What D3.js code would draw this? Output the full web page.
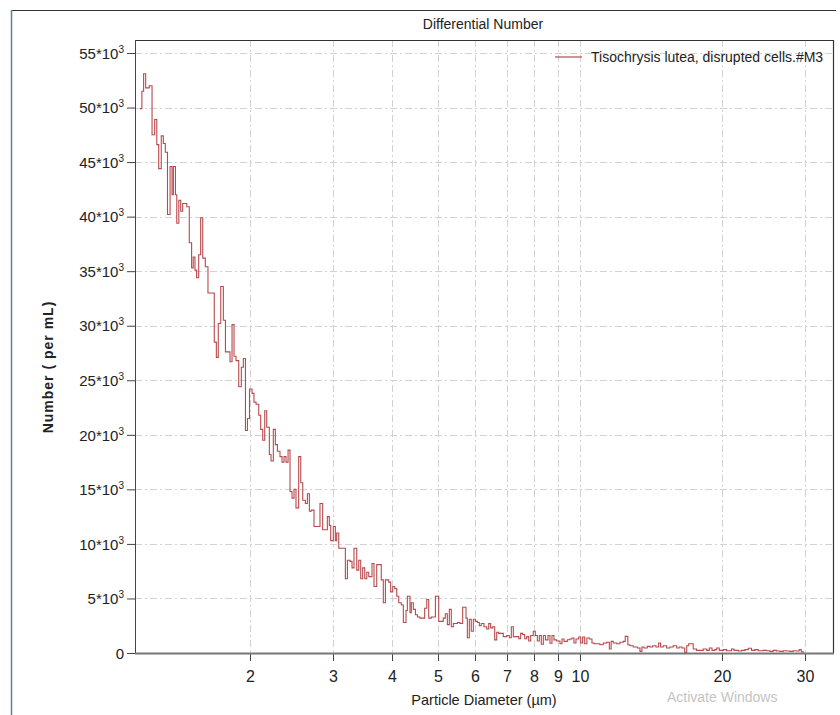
<!DOCTYPE html>
<html>
<head>
<meta charset="utf-8">
<script src="https://cdn.jsdelivr.net/npm/d3@7/dist/d3.min.js"></script>
<style>
  html, body { margin: 0; padding: 0; background: #fff; }
  svg { display: block; }
  text { font-family: "Liberation Sans", Arial, sans-serif; fill: #222; }
</style>
</head>
<body>
<svg id="chart" width="840" height="715"></svg>
<script>
// ---- data ----
const chartTitle = "Differential Number";
const seriesName = "Tisochrysis lutea, disrupted cells.#M3";
const xLabel = "Particle Diameter (µm)";
const yLabel = "Number ( per mL)";

// left edge of each step (µm)
const diameters = [
  1.169,1.180,1.190,1.202,1.223,1.240,1.256,1.269,1.281,1.297,1.310,1.323,1.337,1.354,1.367,1.376,1.390,1.399,1.413,1.426,
  1.440,1.469,1.487,1.504,1.516,1.529,1.541,1.557,1.572,1.588,1.608,1.629,1.680,1.697,1.713,1.734,1.756,1.774,1.814,1.832,
  1.850,1.868,1.893,1.917,1.936,1.956,1.975,1.995,
  2.020,2.039,2.060,2.087,2.107,2.128,2.149,2.170,2.198,2.216,2.241,2.263,2.286,2.315,2.338,2.361,2.384,2.408,2.431,2.455,
  2.479,2.503,2.536,2.562,2.587,2.620,2.646,2.672,2.697,2.733,2.814,2.851,2.917,2.945,2.965,3.003,3.033,3.053,3.084,3.185,
  3.217,3.258,3.290,3.322,3.367,3.400,3.433,3.466,3.501,3.536,3.570,3.627,3.663,3.712,
  3.795,3.833,3.872,3.935,3.973,4.013,4.053,4.093,4.133,4.185,4.227,4.282,4.310,4.366,4.394,4.438,4.483,4.528,4.584,4.690,
  4.738,4.784,4.844,4.942,5.023,5.136,5.187,5.239,5.290,5.341,5.395,5.503,5.572,5.646,5.738,5.776,5.832,5.888,5.948,6.007,
  6.067,6.124,6.182,6.264,6.348,6.411,6.472,6.536,6.601,6.666,6.731,6.883,6.999,7.089,7.158,7.229,7.425,7.492,7.566,7.642,
  7.717,7.793,7.868,7.969,8.048,8.128,8.207,8.286,8.369,8.453,8.561,8.644,8.729,8.814,8.932,
  9.077,9.166,9.256,9.409,9.530,9.623,9.718,9.814,9.943,10.04,10.14,10.24,10.35,10.48,10.61,10.72,11.03,11.21,11.40,11.55,
  11.65,11.77,11.97,12.16,12.36,12.48,12.64,12.77,12.98,13.24,13.41,13.54,13.67,13.90,14.08,14.27,14.50,14.69,14.83,15.02,
  15.27,15.52,15.77,16.04,16.24,16.46,16.68,16.85,17.01,17.39,17.68,18.26,18.57,18.81,19.06,19.31,19.50,19.75,20.13,20.47,
  20.97,21.21,21.66,22.02,22.38,22.75,23.12,23.49,23.88,24.47,24.88,25.28,25.69,26.12,26.55,26.98,27.43,27.87,28.32,28.80,
  29.17,29.46
];
const lastEdge = 29.75;

// number per mL, in units of 10^3
const counts = [
  49.9,51.5,53.1,51.8,52.0,47.5,48.9,46.6,44.4,47.4,46.7,45.9,40.2,44.6,42.0,44.6,42.0,39.4,41.5,40.5,
  41.2,40.9,37.6,35.3,36.3,35.1,34.4,36.5,39.9,36.2,35.4,33.0,28.5,27.1,30.2,33.6,30.5,27.6,26.7,30.1,
  27.2,26.8,24.4,26.2,27.0,20.4,21.5,24.2,
  23.8,23.0,22.8,21.8,20.5,19.5,22.2,20.7,18.2,17.6,20.5,19.1,18.5,18.0,17.5,18.0,17.5,18.6,14.8,14.2,
  15.0,13.3,18.0,15.6,14.0,13.7,14.6,13.0,13.1,11.6,13.7,11.3,12.5,11.7,10.3,11.6,10.3,11.0,9.6,6.8,
  8.5,8.4,7.8,9.6,7.6,8.5,6.8,7.8,6.8,7.4,7.0,8.2,6.1,8.1,
  6.7,4.6,6.7,6.5,5.6,6.1,5.9,5.2,4.6,4.4,2.8,3.9,5.2,3.7,4.6,4.0,3.5,3.3,3.2,4.1,
  4.9,3.2,3.3,5.2,2.9,3.2,3.6,2.6,4.0,2.4,2.7,2.8,2.7,4.2,3.2,1.4,3.1,2.0,3.1,2.9,
  2.8,2.5,2.7,2.4,2.2,2.7,2.3,2.4,1.2,1.9,1.8,1.5,1.6,1.4,2.4,1.5,1.3,1.8,1.7,1.3,
  1.5,1.1,1.6,2.0,1.6,1.1,1.6,0.8,1.6,1.2,1.6,0.9,1.6,1.2,1.1,
  0.85,1.28,1.07,1.22,1.28,1.37,0.92,1.28,1.46,0.92,1.46,0.85,1.37,1.28,0.92,0.85,0.76,0.92,0.98,0.37,
  1.07,0.92,0.85,0.98,1.07,1.52,0.76,0.67,0.55,0.46,0.15,0.55,0.46,0.61,0.55,0.67,0.55,0.92,0.55,0.67,
  0.46,0.55,0.67,0.46,0.55,0.46,0.06,0.67,0.85,0.37,0.24,0.37,0.24,0.46,0.24,0.31,0.46,0.24,0.31,0.21,
  0.37,0.24,0.18,0.24,0.31,0.43,0.24,0.31,0.21,0.24,0.21,0.15,0.24,0.18,0.15,0.21,0.18,0.15,0.21,0.18,
  0.31,0.12
];

const xTicks = [2, 3, 4, 5, 6, 7, 8, 9, 10, 20, 30];
const yTicks = [0, 5, 10, 15, 20, 25, 30, 35, 40, 45, 50, 55];

// ---- layout ----
const svg = d3.select("#chart");
const plot = { left: 135, right: 833, top: 40, bottom: 653 };

const x = d3.scaleLog().domain([1.141, 34.4]).range([plot.left, plot.right]);
const y = d3.scaleLinear().domain([0, 55]).range([plot.bottom, 53]);

// outer frame
svg.append("line").attr("x1", 11).attr("x2", 836).attr("y1", 10.5).attr("y2", 10.5)
  .attr("stroke", "#333").attr("stroke-width", 1.2);
svg.append("line").attr("x1", 11.5).attr("x2", 11.5).attr("y1", 10).attr("y2", 715)
  .attr("stroke", "#5b7f9e").attr("stroke-width", 1.5);

// title
svg.append("text").attr("x", 483).attr("y", 29).attr("text-anchor", "middle")
  .style("font-size", "14px").text(chartTitle);

// grid
const gridColor = "#d2d2d2";
const dash = "7,3,2,3";
svg.append("g").selectAll("line").data(xTicks).join("line")
  .attr("x1", d => Math.round(x(d)) + 0.5).attr("x2", d => Math.round(x(d)) + 0.5)
  .attr("y1", plot.top).attr("y2", plot.bottom)
  .attr("stroke", gridColor).attr("stroke-dasharray", dash);
svg.append("g").selectAll("line").data(yTicks.filter(d => d > 0)).join("line")
  .attr("x1", plot.left).attr("x2", plot.right)
  .attr("y1", d => Math.round(y(d)) + 0.5).attr("y2", d => Math.round(y(d)) + 0.5)
  .attr("stroke", gridColor).attr("stroke-dasharray", dash);

// plot border (top & right)
svg.append("path")
  .attr("d", `M${plot.left},${plot.top + 0.5}H${plot.right + 0.5}V${plot.bottom}`)
  .attr("fill", "none").attr("stroke", "#333").attr("stroke-width", 1.2);

// data line
const pts = diameters.map((d, i) => [d, counts[i]]);
pts.push([lastEdge, 0]);
const line = d3.line().x(d => x(d[0])).y(d => y(d[1])).curve(d3.curveStepAfter);
svg.append("path").datum(pts).attr("d", line)
  .attr("fill", "none").attr("stroke", "#b9494c").attr("stroke-width", 1.1);

// y axis
const yAxis = svg.append("g").attr("transform", `translate(${plot.left},0)`)
  .call(d3.axisLeft(y).tickValues(yTicks).tickSize(8).tickPadding(4).tickFormat(""));
yAxis.select(".domain").attr("stroke", "#444").attr("d", `M0.5,${plot.top}V${plot.bottom}`);
yAxis.selectAll(".tick line").attr("stroke", "#444");
yAxis.selectAll(".tick").each(function(d) {
  const t = d3.select(this).append("text")
    .attr("x", -11).attr("dy", "0.35em").attr("text-anchor", "end")
    .style("font-size", "15px").attr("fill", "#222");
  if (d === 0) { t.text("0"); }
  else {
    t.append("tspan").text(d + "*10");
    t.append("tspan").attr("dy", "-6").style("font-size", "10px").text("3");
  }
});

// x axis
const xAxis = svg.append("g").attr("transform", `translate(0,${plot.bottom})`)
  .call(d3.axisBottom(x).tickValues(xTicks).tickSize(8).tickPadding(10).tickFormat(d3.format("d")));
xAxis.select(".domain").remove();
xAxis.selectAll(".tick line").attr("stroke", "#444");
xAxis.selectAll(".tick text").style("font-size", "16px").attr("fill", "#222");
xAxis.selectAll(".tick").attr("transform", d => `translate(${Math.round(x(d)) + 0.5},0)`);
svg.append("line").attr("x1", plot.left).attr("x2", plot.right + 1)
  .attr("y1", plot.bottom + 0.5).attr("y2", plot.bottom + 0.5)
  .attr("stroke", "#777").attr("stroke-width", 2);

// axis labels
svg.append("text").attr("x", 484).attr("y", 705).attr("text-anchor", "middle")
  .style("font-size", "14.5px").text(xLabel);
svg.append("text").attr("transform", "translate(53,367) rotate(-90)")
  .attr("text-anchor", "middle").style("font-size", "14px").style("font-weight", "bold")
  .style("letter-spacing", "1px").attr("fill", "#333").text(yLabel);

// legend
svg.append("line").attr("x1", 555).attr("x2", 582).attr("y1", 57).attr("y2", 57)
  .attr("stroke", "#b9494c").attr("stroke-width", 1.2);
svg.append("text").attr("x", 591).attr("y", 62).style("font-size", "14px").text(seriesName);

// OS watermark visible in the reference screenshot
svg.append("text").attr("x", 667).attr("y", 702).style("font-size", "14px")
  .attr("fill", "#c4c4c4").style("fill", "#c4c4c4").text("Activate Windows");
</script>
</body>
</html>
